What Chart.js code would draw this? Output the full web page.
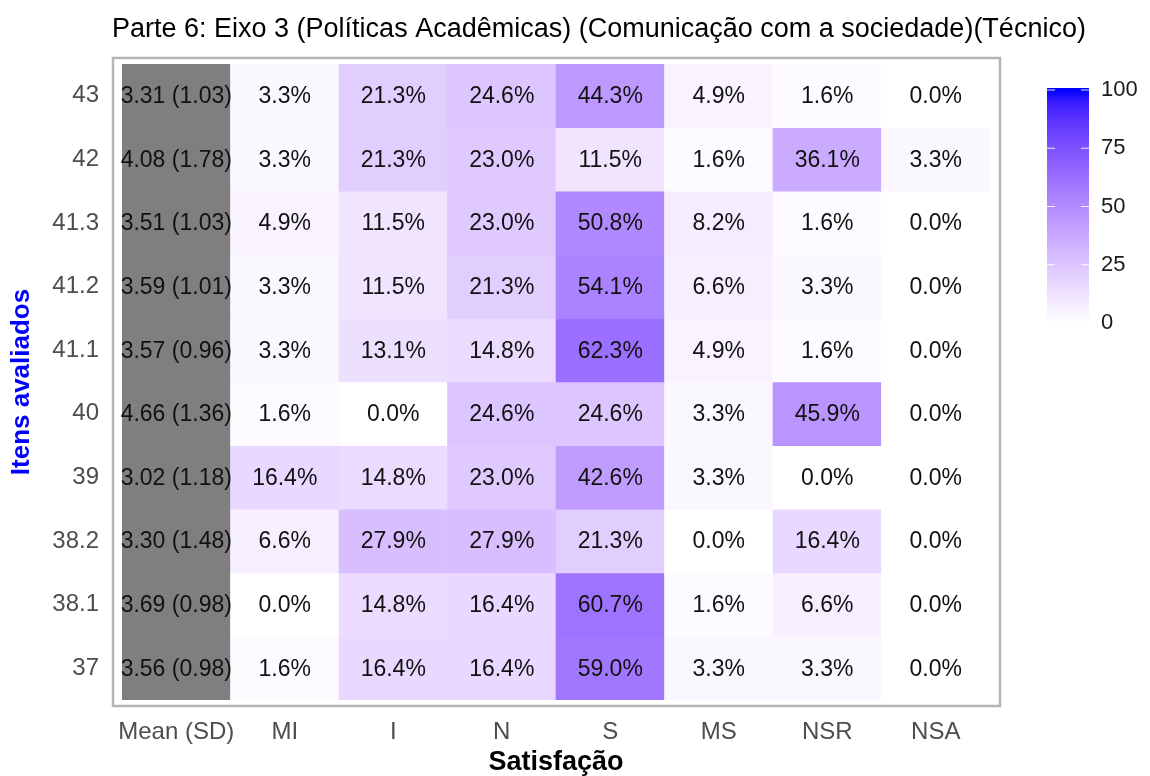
<!DOCTYPE html>
<html><head><meta charset="utf-8">
<script src="https://cdn.jsdelivr.net/npm/chart.js@4.4.1/dist/chart.umd.min.js"></script>
<style>html,body{margin:0;padding:0;background:#fff}#wrap{width:1150px;height:776px}</style>
</head><body><div id="wrap"><canvas id="c" width="1150" height="776"></canvas></div>
<script>
const chartTitle = 'Parte 6: Eixo 3 (Políticas Acadêmicas) (Comunicação com a sociedade)(Técnico)';
const xTitle = 'Satisfação';
const yTitle = 'Itens avaliados';
const columns = ['Mean (SD)', 'MI', 'I', 'N', 'S', 'MS', 'NSR', 'NSA'];
const items = ['43', '42', '41.3', '41.2', '41.1', '40', '39', '38.2', '38.1', '37'];
const means = ['3.31', '4.08', '3.51', '3.59', '3.57', '4.66', '3.02', '3.30', '3.69', '3.56'];
const sds = ['1.03', '1.78', '1.03', '1.01', '0.96', '1.36', '1.18', '1.48', '0.98', '0.98'];
const MI  = [3.3, 3.3, 4.9, 3.3, 3.3, 1.6, 16.4, 6.6, 0.0, 1.6];
const I   = [21.3, 21.3, 11.5, 11.5, 13.1, 0.0, 14.8, 27.9, 14.8, 16.4];
const N   = [24.6, 23.0, 23.0, 21.3, 14.8, 24.6, 23.0, 27.9, 16.4, 16.4];
const S   = [44.3, 11.5, 50.8, 54.1, 62.3, 24.6, 42.6, 21.3, 60.7, 59.0];
const MS  = [4.9, 1.6, 8.2, 6.6, 4.9, 3.3, 3.3, 0.0, 1.6, 3.3];
const NSR = [1.6, 36.1, 1.6, 3.3, 1.6, 45.9, 0.0, 16.4, 6.6, 3.3];
const NSA = [0.0, 3.3, 0.0, 0.0, 0.0, 0.0, 0.0, 0.0, 0.0, 0.0];
const legendTicks = [0, 25, 50, 75, 100];

const pctCols = [MI, I, N, S, MS, NSR, NSA];
const FONT = '"Liberation Sans", Arial, Helvetica, sans-serif';

function lab2rgb(L, a, b) {
  const fy = (L + 16) / 116, fx = fy + a / 500, fz = fy - b / 200;
  const f = t => (t * t * t > 0.008856 ? t * t * t : (t - 16 / 116) / 7.787);
  const X = 0.95047 * f(fx), Y = L > 8 ? fy * fy * fy : L / 903.3, Z = 1.08883 * f(fz);
  let r = 3.2404542 * X - 1.5371385 * Y - 0.4985314 * Z;
  let g = -0.9692660 * X + 1.8760108 * Y + 0.0415560 * Z;
  let bl = 0.0556434 * X - 0.2040259 * Y + 1.0572252 * Z;
  const gam = c => { c = c <= 0.0031308 ? 12.92 * c : 1.055 * Math.pow(c, 1 / 2.4) - 0.055; return Math.round(Math.max(0, Math.min(1, c)) * 255); };
  return `rgb(${gam(r)},${gam(g)},${gam(bl)})`;
}
const LOW = [100, 0, 0], HIGH = [32.30, 79.19, -107.86];
function fillFor(p) {
  const t = Math.max(0, Math.min(1, p / 100));
  return lab2rgb(LOW[0] + (HIGH[0] - LOW[0]) * t, LOW[1] + (HIGH[1] - LOW[1]) * t, LOW[2] + (HIGH[2] - LOW[2]) * t);
}

const datasets = items.map((it, r) => ({
  label: it,
  data: columns.map(() => [r, r + 1]),
  backgroundColor: columns.map((c, j) => (j === 0 ? '#7f7f7f' : fillFor(pctCols[j - 1][r]))),
  borderWidth: 0,
  grouped: false,
  barPercentage: 1,
  categoryPercentage: 1
}));

const deco = {
  id: 'deco',
  beforeDraw(chart) {
    const ctx = chart.ctx;
    ctx.save(); ctx.fillStyle = '#fff'; ctx.fillRect(0, 0, chart.width, chart.height); ctx.restore();
  },
  afterDatasetsDraw(chart) {
    const ctx = chart.ctx;
    ctx.save();
    ctx.font = `23px ${FONT}`;
    ctx.fillStyle = '#111';
    ctx.textAlign = 'center';
    ctx.textBaseline = 'middle';
    items.forEach((it, r) => {
      const meta = chart.getDatasetMeta(r);
      meta.data.forEach((el, j) => {
        const p = el.getCenterPoint();
        const txt = j === 0 ? `${means[r]} (${sds[r]})` : pctCols[j - 1][r].toFixed(1) + '%';
        ctx.fillText(txt, p.x, p.y + 1);
      });
    });
    ctx.restore();
  },
  afterDraw(chart) {
    const ctx = chart.ctx, a = chart.chartArea;
    ctx.save();
    // panel border
    ctx.strokeStyle = '#b5b5b5';
    ctx.lineWidth = 2.5;
    ctx.strokeRect(a.left - 9, a.top - 6, (a.right - a.left) + 19, (a.bottom - a.top) + 12);
    // title
    ctx.fillStyle = '#000';
    ctx.font = `27px ${FONT}`;
    ctx.textAlign = 'left';
    ctx.textBaseline = 'middle';
    ctx.fillText(chartTitle, 112, 30);
    // colour bar
    const bx = 1047, bw = 42, top = 90, bot = 323;
    const grad = ctx.createLinearGradient(0, bot, 0, top);
    for (let k = 0; k <= 20; k++) grad.addColorStop(k / 20, fillFor(k * 5));
    ctx.fillStyle = grad;
    ctx.fillRect(bx, top - 2, bw, bot - top + 2);
    ctx.strokeStyle = 'rgba(255,255,255,0.9)';
    ctx.lineWidth = 1;
    ctx.font = `22px ${FONT}`;
    ctx.fillStyle = '#1a1a1a';
    ctx.textAlign = 'left';
    legendTicks.forEach(v => {
      const y = bot - (bot - top) * v / 100;
      ctx.beginPath();
      ctx.moveTo(bx, y); ctx.lineTo(bx + 8, y);
      ctx.moveTo(bx + bw - 8, y); ctx.lineTo(bx + bw, y);
      ctx.stroke();
      ctx.fillText(String(v), bx + bw + 12, y);
    });
    ctx.restore();
  }
};

new Chart(document.getElementById('c'), {
  type: 'bar',
  data: { labels: columns, datasets },
  options: {
    responsive: false,
    devicePixelRatio: 1,
    animation: false,
    layout: { padding: { left: 0, right: 160, top: 64, bottom: 0 } },
    plugins: { legend: { display: false }, tooltip: { enabled: false }, title: { display: false } },
    scales: {
      x: {
        type: 'category',
        grid: { display: false, drawTicks: false },
        border: { display: false },
        ticks: { color: '#4d4d4d', font: { size: 24, family: FONT }, padding: 18, maxRotation: 0, autoSkip: false },
        title: { display: true, text: xTitle, color: '#000', font: { size: 27, weight: 'bold', family: FONT }, padding: { top: 0, bottom: -3 } },
        afterFit(s) { s.height = 76; }
      },
      y: {
        type: 'linear',
        min: 0, max: 10,
        reverse: true,
        grid: { display: false, drawTicks: false },
        border: { display: false },
        afterBuildTicks(s) { s.ticks = items.map((_, r) => ({ value: r + 0.5 })); },
        ticks: { callback: v => items[Math.floor(v)], color: '#4d4d4d', font: { size: 24, family: FONT }, padding: 23, autoSkip: false },
        title: { display: true, text: yTitle, color: '#0000ff', font: { size: 26, weight: 'bold', family: FONT }, padding: { top: 6, bottom: 0 } },
        afterFit(s) { s.width = 122; }
      }
    }
  },
  plugins: [deco]
});
</script>
</body></html>
